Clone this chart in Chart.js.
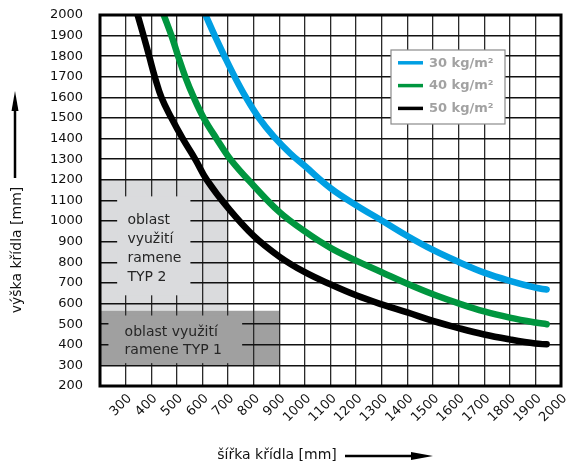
<!DOCTYPE html>
<html><head><meta charset="utf-8">
<script src="https://cdn.jsdelivr.net/npm/chart.js@4/dist/chart.umd.min.js"></script>
<style>html,body{margin:0;padding:0;background:#fff}#wrap{width:568px;height:464px;position:relative}</style>
</head><body><div id="wrap"><canvas id="c" width="568" height="464"></canvas></div>
<script>
// ---- data ----
const seriesLabels = ['30 kg/m²', '40 kg/m²', '50 kg/m²'];
const width30  = [612, 648, 686, 726, 770, 821, 879, 943, 1000, 1100, 1200, 1300, 1400, 1500, 1600, 1700, 1800, 1900, 1944];
const height30 = [2000, 1900, 1800, 1700, 1600, 1500, 1410, 1328, 1267, 1160, 1077, 1003, 928, 860, 802, 750, 710, 677, 668];
const width40  = [449, 479, 505, 533, 566, 605, 655, 712, 800, 900, 1000, 1100, 1200, 1300, 1400, 1500, 1600, 1700, 1800, 1900, 1944];
const height40 = [2000, 1900, 1800, 1700, 1600, 1500, 1400, 1295, 1172, 1045, 950, 870, 808, 752, 696, 645, 601, 562, 532, 508, 500];
const width50  = [347, 370, 392, 414, 440, 479, 523, 572, 617, 700, 800, 900, 1000, 1100, 1200, 1300, 1400, 1500, 1600, 1700, 1800, 1900, 1944];
const height50 = [2000, 1900, 1800, 1700, 1600, 1500, 1400, 1300, 1200, 1064, 928, 828, 752, 693, 640, 596, 557, 516, 481, 450, 426, 406, 402];
const xTickLabels = ['300','400','500','600','700','800','900','1000','1100','1200','1300','1400','1500','1600','1700','1800','1900','2000'];
const yTickLabels = ['200','300','400','500','600','700','800','900','1000','1100','1200','1300','1400','1500','1600','1700','1800','1900','2000'];
const typ2Area = [200, 700, 565, 1200];   // x from, x to, y from, y to
const typ1Area = [200, 900, 300, 565];
const typ2Open = [267, 553, 640, 1120];   // part of the area where the grid is hidden
const typ1Open = [233, 755, 311, 542];
const typ2Text = ['oblast', 'využití', 'ramene', 'TYP 2'];
const typ1Text = ['oblast využití', 'ramene TYP 1'];
const xTitle = 'šířka křídla [mm]';
const yTitle = 'výška křídla [mm]';

// ---- style ----
const FONT = "'DejaVu Sans', sans-serif";
const seriesColors = ['#009fe3', '#00963f', '#000000'];
const lightGray = '#dadbdd', darkGray = '#a0a0a0';

function pts(xs, ys){ return xs.map((x,i)=>({x:x, y:ys[i]})); }

function rectPx(chart, a){
  const {x, y} = chart.scales;
  const x0 = x.getPixelForValue(a[0]), x1 = x.getPixelForValue(a[1]);
  const y0 = y.getPixelForValue(a[3]), y1 = y.getPixelForValue(a[2]);
  return [x0, y0, x1 - x0, y1 - y0];
}

function arrow(ctx, x1, y1, x2, y2, headLen, headW, shaftW){
  const ang = Math.atan2(y2 - y1, x2 - x1);
  const bx = x2 - headLen * Math.cos(ang), by = y2 - headLen * Math.sin(ang);
  ctx.lineWidth = shaftW;
  ctx.beginPath(); ctx.moveTo(x1, y1); ctx.lineTo(bx + Math.cos(ang), by + Math.sin(ang)); ctx.stroke();
  ctx.beginPath(); ctx.moveTo(x2, y2);
  ctx.lineTo(bx + headW/2 * Math.sin(ang), by - headW/2 * Math.cos(ang));
  ctx.lineTo(bx - headW/2 * Math.sin(ang), by + headW/2 * Math.cos(ang));
  ctx.closePath(); ctx.fill();
}

const decor = {
  id: 'decor',
  beforeDraw(chart){
    const ctx = chart.ctx;
    ctx.save();
    ctx.fillStyle = lightGray; ctx.fillRect(...rectPx(chart, typ2Area));
    ctx.fillStyle = darkGray;  ctx.fillRect(...rectPx(chart, typ1Area));
    ctx.restore();
  },
  beforeDatasetsDraw(chart){
    const ctx = chart.ctx, {x, y} = chart.scales;
    ctx.save();
    ctx.fillStyle = lightGray; ctx.fillRect(...rectPx(chart, typ2Open));
    ctx.fillStyle = darkGray;  ctx.fillRect(...rectPx(chart, typ1Open));
    ctx.fillStyle = '#262626';
    ctx.font = '14px ' + FONT;
    ctx.textAlign = 'left'; ctx.textBaseline = 'middle';
    let tx = x.getPixelForValue(307), ty = y.getPixelForValue(1005);
    typ2Text.forEach((t, i) => ctx.fillText(t, tx, ty + i * 19));
    tx = x.getPixelForValue(296); ty = y.getPixelForValue(460);
    typ1Text.forEach((t, i) => ctx.fillText(t, tx, ty + i * 17.5));
    ctx.restore();
  },
  afterDatasetsDraw(chart){
    const ctx = chart.ctx, ca = chart.chartArea;
    ctx.save();
    ctx.strokeStyle = '#000'; ctx.lineWidth = 3;
    ctx.strokeRect(ca.left, ca.top, ca.right - ca.left, ca.bottom - ca.top);
    const L = ca.right - 170, T = ca.top + 35, W = 114, H = 74;
    ctx.fillStyle = '#fff'; ctx.fillRect(L, T, W, H);
    ctx.strokeStyle = '#8a8a8a'; ctx.lineWidth = 1.2; ctx.strokeRect(L, T, W, H);
    ctx.font = 'bold 13px ' + FONT; ctx.textAlign = 'left'; ctx.textBaseline = 'middle';
    chart.data.datasets.forEach((ds, i) => {
      const yy = T + 12.8 + i * 22.8;
      ctx.strokeStyle = ds.borderColor; ctx.lineWidth = 3.5;
      ctx.beginPath(); ctx.moveTo(L + 7, yy); ctx.lineTo(L + 32, yy); ctx.stroke();
      ctx.fillStyle = '#a2a2a2'; ctx.fillText(ds.label, L + 38, yy + 0.5);
    });
    ctx.restore();
  },
  afterDraw(chart){
    const ctx = chart.ctx;
    ctx.save();
    ctx.fillStyle = '#111'; ctx.strokeStyle = '#000';
    ctx.font = '14px ' + FONT; ctx.textBaseline = 'middle'; ctx.textAlign = 'center';
    ctx.fillText(xTitle, 277, 455);
    ctx.save(); ctx.translate(17, 250); ctx.rotate(-Math.PI/2); ctx.fillText(yTitle, 0, 0); ctx.restore();
    ctx.fillStyle = '#000';
    arrow(ctx, 345, 456, 433, 456, 22, 8, 2.5);
    arrow(ctx, 15, 178, 15, 91, 20, 7, 2.5);
    ctx.restore();
  }
};

const mk = (label, xs, ys, color) => ({
  label, data: pts(xs, ys), borderColor: color, backgroundColor: color,
  borderWidth: 6.5, pointRadius: 0, fill: false, tension: 0.4,
  borderCapStyle: 'round', borderJoinStyle: 'round', clip: 0
});

new Chart(document.getElementById('c'), {
  type: 'line',
  data: { datasets: [
    mk(seriesLabels[0], width30, height30, seriesColors[0]),
    mk(seriesLabels[1], width40, height40, seriesColors[1]),
    mk(seriesLabels[2], width50, height50, seriesColors[2])
  ]},
  options: {
    responsive: false, animation: false, devicePixelRatio: 1,
    layout: { padding: { top: 15, right: 7, left: 0, bottom: 0 } },
    plugins: { legend: { display: false }, tooltip: { enabled: false } },
    scales: {
      x: {
        type: 'linear', min: 200, max: 2000,
        afterFit: s => { s.height = 78; s.paddingLeft = 0; s.paddingRight = 0; },
        border: { display: false },
        grid: { color: '#2a2a2a', lineWidth: 1.3, drawTicks: false },
        ticks: {
          stepSize: 100, autoSkip: false, maxRotation: 45, minRotation: 45, padding: 5, labelOffset: 4,
          color: '#111', font: { family: FONT, size: 13 },
          callback: v => xTickLabels.includes(String(v)) ? String(v) : ''
        }
      },
      y: {
        type: 'linear', min: 200, max: 2000,
        afterFit: s => { s.width = 100; s.paddingTop = 0; s.paddingBottom = 0; },
        border: { display: false },
        grid: { color: '#111', lineWidth: 1.6, drawTicks: false },
        ticks: {
          stepSize: 100, autoSkip: false, padding: 17,
          color: '#111', font: { family: FONT, size: 13 },
          callback: v => yTickLabels.includes(String(v)) ? String(v) : ''
        }
      }
    }
  },
  plugins: [decor]
});
</script></body></html>
